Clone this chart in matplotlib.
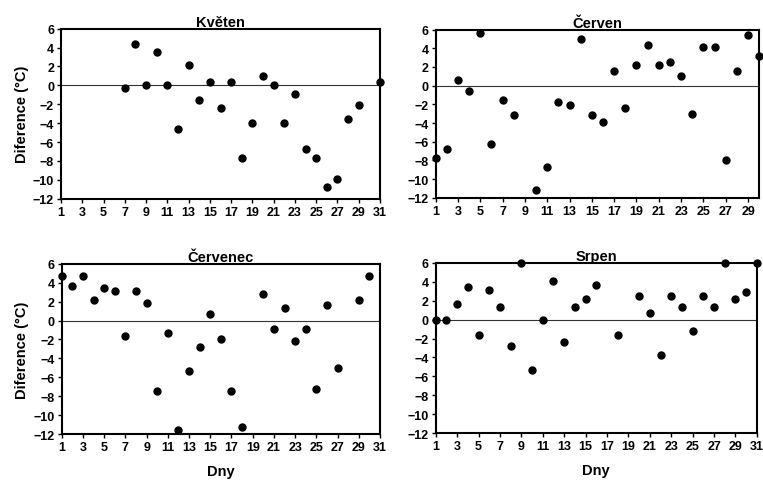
import numpy as np
import matplotlib
matplotlib.use("Agg")
import matplotlib.pyplot as plt

plt.rcParams['font.family'] = ['Liberation Sans', 'DejaVu Sans']

nan = np.nan
# day-by-day differences (°C), nan = missing day
kveten = [nan, nan, nan, nan, nan, nan, -0.3, 4.4, 0.0, 3.5,
          0.0, -4.6, 2.2, -1.5, 0.4, -2.4, 0.4, -7.7, -4.0, 1.0,
          0.0, -4.0, -0.9, -6.7, -7.7, -10.8, -9.9, -3.6, -2.1, nan, 0.4]
cerven = [-7.7, -6.8, 0.6, -0.6, 5.6, -6.2, -1.5, -3.1, nan, -11.2,
          -8.7, -1.8, -2.1, 5.0, -3.1, -3.9, 1.6, -2.4, 2.2, 4.4,
          2.2, 2.5, 1.0, -3.0, 4.1, 4.1, -8.0, 1.6, 5.4, 3.2]
cervenec = [4.7, 3.7, 4.7, 2.2, 3.4, 3.1, -1.6, 3.1, 1.9, -7.5,
            -1.3, -11.6, -5.3, -2.8, 0.7, -1.9, -7.5, -11.3, nan, 2.8,
            -0.9, 1.3, -2.2, -0.9, -7.2, 1.6, -5.0, nan, 2.2, 4.7, nan]
srpen = [0.0, 0.0, 1.6, 3.4, -1.6, 3.1, 1.3, -2.8, 6.0, -5.3,
         0.0, 4.1, -2.4, 1.3, 2.2, 3.7, nan, -1.6, nan, 2.5,
         0.7, -3.7, 2.5, 1.3, -1.2, 2.5, 1.3, 6.0, 2.2, 2.9, 6.0]

months = ['Květen', 'Červen', 'Červenec', 'Srpen']
series = [kveten, cerven, cervenec, srpen]
boxes = [[0.080, 0.588, 0.418, 0.351],
         [0.571, 0.590, 0.424, 0.347],
         [0.081, 0.103, 0.417, 0.351],
         [0.571, 0.105, 0.421, 0.351]]

fig = plt.figure(figsize=(7.63, 4.85), dpi=100)
for i in range(4):
    ax = fig.add_axes(boxes[i])
    y = np.array(series[i], dtype=float)
    days = np.arange(1, len(y) + 1)
    ax.axhline(0, color='#333333', lw=0.8, zorder=1)
    ax.plot(days, y, 'o', color='black', markersize=5, clip_on=False, zorder=3)
    ax.set_xlim(1, len(y))
    ax.set_ylim(-12, 6)
    ax.set_xticks(np.arange(1, len(y) + 1, 2))
    ax.set_yticks(np.arange(-12, 7, 2))
    ax.tick_params(direction='out', length=3, width=1, labelsize=9, pad=2)
    for lab in ax.get_xticklabels() + ax.get_yticklabels():
        lab.set_fontweight('bold')
    for s in ax.spines.values():
        s.set_linewidth(1.5)
    ax.set_title(months[i], fontsize=10.5, fontweight='bold', pad=1)
    if i % 2 == 0:
        ax.set_ylabel('Diference (°C)', fontsize=10.5, fontweight='bold', labelpad=3)
    if i >= 2:
        ax.set_xlabel('Dny', fontsize=10.5, fontweight='bold', labelpad=8)

plt.savefig('out.png', dpi=100)
